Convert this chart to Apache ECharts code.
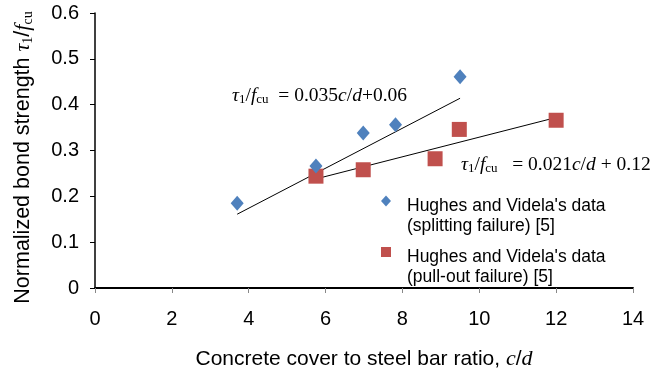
<!DOCTYPE html>
<html>
<head>
<meta charset="utf-8">
<script src="https://cdn.jsdelivr.net/npm/echarts@6/dist/echarts.min.js"></script>
<style>
  html, body { margin: 0; padding: 0; background: #fff; }
  #chart { width: 664px; height: 375px; }
</style>
</head>
<body>
<div id="chart"></div>
<script>
// splitting failure (blue diamonds)
const splitX = [3.7, 5.75, 6.98, 7.82, 9.5];
const splitY = [0.185, 0.266, 0.338, 0.356, 0.461];
// pull-out failure (red squares)
const pullX = [5.75, 6.98, 8.85, 9.48, 12.0];
const pullY = [0.244, 0.258, 0.282, 0.346, 0.366];
// fitted lines, end points
const splitFitX = [3.7, 9.5];
const splitFitY = [0.161, 0.414];
const pullFitX = [5.75, 12.0];
const pullFitY = [0.238, 0.372];

const xTicks = [0, 2, 4, 6, 8, 10, 12, 14];
const yTicks = [0, 0.1, 0.2, 0.3, 0.4, 0.5, 0.6];

const splitName = "Hughes and Videla's data\n(splitting failure) [5]";
const pullName = "Hughes and Videla's data\n(pull-out failure) [5]";

const zip = (xs, ys) => xs.map((x, i) => [x, ys[i]]);

const serif = 'Liberation Serif';
const sans = 'Liberation Sans';
const eqRich = {
  n: { fontFamily: serif, fontSize: 19.5, color: '#000' },
  it: { fontFamily: serif, fontSize: 19.5, fontStyle: 'italic', color: '#000' },
  sub: { fontFamily: serif, fontSize: 13, color: '#000', padding: [8, 0, 0, 0] }
};
// legend text: a spacer line on top so the icon sits beside the first line
const legendText = {
  padding: [0, 0, 0, 11],
  rich: {
    s: { fontSize: 10, lineHeight: 30 },
    a: { fontFamily: sans, fontSize: 17.5, color: '#000', lineHeight: 20 }
  }
};
const legendFormat = name => '{s| }\n' + name.split('\n').map(l => '{a|' + l + '}').join('\n');

let chart = echarts.init(document.getElementById('chart'));
let option = {
  animation: false,
  grid: { left: 95, right: 31, top: 13, bottom: 86 },
  xAxis: {
    type: 'value',
    min: xTicks[0],
    max: xTicks[xTicks.length - 1],
    interval: 2,
    name: '{t|Concrete cover to steel bar ratio, }{it|c}{t|/}{it|d}',
    nameLocation: 'middle',
    nameGap: 60,
    nameTextStyle: {
      rich: {
        t: { fontFamily: sans, fontSize: 21, color: '#000' },
        it: { fontFamily: serif, fontSize: 22, fontStyle: 'italic', color: '#000' }
      }
    },
    axisLine: { onZero: false, lineStyle: { color: '#000', width: 2 } },
    axisTick: { show: true, inside: false, length: 5, lineStyle: { color: '#888' } },
    axisLabel: { fontFamily: sans, fontSize: 20, color: '#000', margin: 21 },
    splitLine: { show: false }
  },
  yAxis: {
    type: 'value',
    min: yTicks[0],
    max: yTicks[yTicks.length - 1],
    interval: 0.1,
    name: '{t|Normalized bond strength }{it|τ}{sub|1}{t|/}{it|f}{sub|cu}',
    nameLocation: 'middle',
    nameGap: 60,
    nameTextStyle: {
      padding: [0, 14, 0, 0],
      rich: {
        t: { fontFamily: sans, fontSize: 21.5, color: '#000' },
        it: { fontFamily: serif, fontSize: 22, fontStyle: 'italic', color: '#000' },
        sub: { fontFamily: serif, fontSize: 14, color: '#000', padding: [9, 0, 0, 0] }
      }
    },
    axisLine: { show: true, lineStyle: { color: '#000', width: 1.5 } },
    axisTick: { show: true, length: 5, lineStyle: { color: '#000' } },
    axisLabel: {
      fontFamily: sans, fontSize: 20, color: '#000', margin: 16,
      formatter: v => (v === 0 ? '0' : v.toFixed(1))
    },
    splitLine: { show: false }
  },
  legend: [
    {
      left: 381, top: 176, padding: 0,
      itemWidth: 10, itemHeight: 11,
      textStyle: legendText,
      formatter: legendFormat,
      data: [{ name: splitName, icon: 'diamond' }]
    },
    {
      left: 381, top: 227, padding: 0,
      itemWidth: 10, itemHeight: 10,
      textStyle: legendText,
      formatter: legendFormat,
      data: [{ name: pullName, icon: 'rect' }]
    }
  ],
  series: [
    {
      name: 'splitFit', type: 'line', data: zip(splitFitX, splitFitY),
      symbol: 'none', lineStyle: { color: '#000', width: 1 }, z: 1
    },
    {
      name: 'pullFit', type: 'line', data: zip(pullFitX, pullFitY),
      symbol: 'none', lineStyle: { color: '#000', width: 1 }, z: 1
    },
    {
      name: splitName,
      type: 'scatter', data: zip(splitX, splitY),
      symbol: 'diamond', symbolSize: [13, 15],
      itemStyle: { color: '#4F81BD', opacity: 1 }, z: 3
    },
    {
      name: pullName,
      type: 'scatter', data: zip(pullX, pullY),
      symbol: 'rect', symbolSize: 15,
      itemStyle: { color: '#C0504D', opacity: 1 }, z: 2
    }
  ],
  graphic: [
    {
      type: 'text', left: 232, top: 86,
      style: {
        text: '{it|τ}{sub|1}{n|/}{it|f}{sub|cu}{n|  = 0.035}{it|c}{n|/}{it|d}{n|+0.06}',
        rich: eqRich
      }
    },
    {
      type: 'text', left: 461, top: 155,
      style: {
        text: '{it|τ}{sub|1}{n|/}{it|f}{sub|cu}{n|   = 0.021}{it|c}{n|/}{it|d}{n| + 0.12}',
        rich: eqRich
      }
    }
  ]
};
chart.setOption(option);
</script>
</body>
</html>
